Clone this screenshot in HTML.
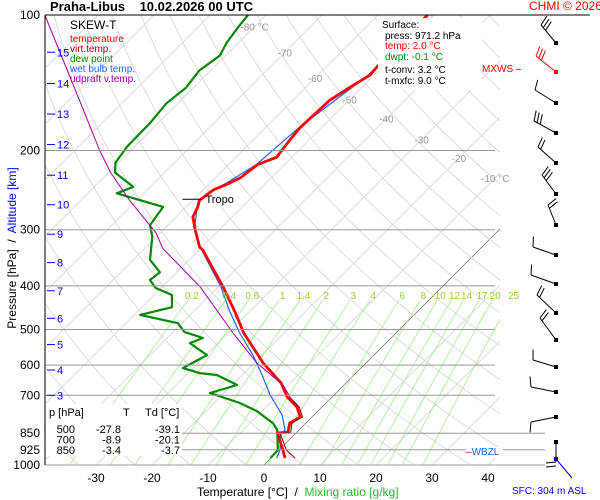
<!DOCTYPE html>
<html><head><meta charset="utf-8"><style>
html,body{margin:0;padding:0;background:#fff;}
svg{display:block;font-family:"Liberation Sans",sans-serif;}
</style></head><body>
<svg id="chart" width="600" height="500" viewBox="0 0 600 500" xmlns="http://www.w3.org/2000/svg">
<defs><clipPath id="plotClip"><rect x="45" y="15" width="455" height="450"/></clipPath></defs>
<rect x="0" y="0" width="600" height="500" fill="#fff"/>
<g id="grid" clip-path="url(#plotClip)"></g>
<g id="series" clip-path="url(#plotClip)"></g>
<g id="overlay"></g>
</svg>
<script>
// ---- data ----
const tempP = [965,926,849,845,807,782,743,706,657,593,509,457,402,333,328,300,281,267,258,245,236,230,215,207,190,178,155,145,136,114,100];
const tempT = [2.5,0.7,-3.3,-1.6,-2.9,-2.1,-4.5,-8.0,-11.6,-18.4,-27.2,-32.5,-39.1,-49.3,-50.4,-54.3,-57.0,-57.9,-58.8,-58.2,-56.4,-55.5,-54.8,-52.7,-53.4,-53.8,-53.4,-52.1,-50.7,-51.6,-51.1];
const virtP = [965,926,850,845,807,782,743,706];
const virtT = [4.3,1.3,-2.8,-1.1,-2.5,-1.7,-4.1,-7.6];
const dewP = [965,926,836,807,759,728,692,664,631,625,609,570,536,522,506,484,464,446,419,404,388,373,350,311,293,267,249,241,224,213,196,174,157,145,133,123,115,105,100];
const dewT = [-0.1,-0.2,-3.9,-5.9,-10.9,-15.4,-22.5,-19.1,-24.5,-27.9,-31.8,-29.8,-35.0,-33.6,-38.0,-40.7,-48.9,-44.6,-46.8,-51.0,-53.4,-53.0,-57.0,-60.7,-63.2,-64.1,-74.8,-73.0,-78.8,-80.5,-81.3,-81.4,-82.0,-81.3,-82.0,-81.0,-82.1,-82.9,-83.2];
const wetP = [965,926,854,836,774,699,631,570,509,457,402,333,300,258,215,178,136,100];
const wetT = [1.0,0.2,-2.5,-2.5,-5.7,-11.4,-16.4,-21.6,-27.9,-33.4,-39.5,-49.5,-54.5,-59.0,-55.0,-54.0,-51.0,-51.3];
const parcelP = [706,666,593,509,402,330,305,258,224,200,155,100];
const parcelT = [-7.5,-10.7,-19.5,-29.1,-43.2,-56.8,-60.7,-71.3,-79.6,-85.5,-98.0,-119.5];
const pLevels = [100,200,300,400,500,600,700,850,925,1000];
const xTicks = [-30,-20,-10,0,10,20,30,40];
const isoLabels = [-80,-70,-60,-50,-40,-30,-20,-10];
const isoLabelP = [106,121,138,154,170,189,208,230];
const mixRatios = [0.2,0.4,0.6,1,1.4,2,3,4,6,8,10,12,14,17,20,25];
const altKm = [1,2,3,4,5,6,7,8,9,10,11,12,13,14,15];
const altP = [890,790,700,615,540,472,410,355,307,264,227,194,166,142,121];
const tableP = ["500","700","850"];
const tableT = ["-27.8","-8.9","-3.4"];
const tableTd = ["-39.1","-20.1","-3.7"];

// ---- axes ----
function yP(p){return 15+450*Math.log10(p/100);}
function xT(t,p){return 264+5.6*t+(465-yP(p));}

const NS="http://www.w3.org/2000/svg";
function mk(tag,attrs,parent){const e=document.createElementNS(NS,tag);for(const k in attrs)e.setAttribute(k,attrs[k]);parent.appendChild(e);return e;}
const grid=document.getElementById('grid'),series=document.getElementById('series'),ov=document.getElementById('overlay');

for(let t=-130;t<=40;t+=10){
  const l=mk('line',{x1:xT(t,1000),y1:yP(1000),x2:xT(t,100),y2:yP(100),stroke:t===0?'#777':'#dcdcdc','stroke-width':t===0?0.8:1},grid);
  
  
}
for(let th=230;th<=520;th+=10){
  let pts=[];
  for(let p=1000;p>=100;p-=10){const T=th*Math.pow(p/1000,0.286)-273.15;pts.push(xT(T,p).toFixed(1)+','+yP(p).toFixed(1));}
  const pl=mk('polyline',{points:pts.join(' '),fill:'none',stroke:'#dcdcdc','stroke-width':1},grid);
  
  
}
pLevels.forEach(p=>{
  const right = p>=850?545:495;
  const l=mk('line',{x1:45,y1:yP(p),x2:right,y2:yP(p),stroke:p===100?'#000':'#999','stroke-width':1},ov);
  
  
});
function tdFromW(w,p){const e=w*p/(622+w);const a=Math.log(e/6.112);return 243.5*a/(17.67-a);}
mixRatios.forEach(w=>{
  let pts=[];
  for(let p=1000;p>=430;p-=10){pts.push(xT(tdFromW(w,p),p).toFixed(1)+','+yP(p).toFixed(1));}
  const pl=mk('polyline',{points:pts.join(' '),fill:'none',stroke:'#9ef08a','stroke-width':0.8},grid);
  
  
  const lp=419;
  const tx=mk('text',{x:xT(tdFromW(w,lp),lp),y:299,'font-size':10,fill:'#9acd32','text-anchor':'middle'},ov);
  tx.textContent=String(w);
  
  
});
isoLabels.forEach((t,i)=>{
  const p=isoLabelP[i];
  const tx=mk('text',{x:xT(t,p),y:yP(p)+4,'font-size':10,fill:'#999','text-anchor':'middle'},ov);
  tx.textContent=(t===-80||t===-10)?t+' °C':String(t);
  
  
});

function curve(P,T,color,w,name,parent){
  const pts=P.map((p,i)=>xT(T[i],p).toFixed(1)+','+yP(p).toFixed(1)).join(' ');
  const pl=mk('polyline',{points:pts,fill:'none',stroke:color,'stroke-width':w,'stroke-linejoin':'round'},parent);
  
  
}
curve(dewP,dewT,'#008800',2.2,'dewpoint-line',series);
curve(wetP,wetT,'#1a66ff',1.2,'wet-bulb-line',series);
curve(tempP,tempT,'#ff0000',2.8,'temperature-line',series);
curve(virtP,virtT,'#8b0000',1,'virtual-temp-line',series);
curve(parcelP,parcelT,'#a000a0',1,'parcel-line',series);

(function(){const p=258,y=yP(p),x=xT(-58.8,p);
 const l=mk('line',{x1:x-17,y1:y-1,x2:x+2,y2:y-1,stroke:'#000','stroke-width':1},ov);
 
 
 const t=mk('text',{x:x+6,y:y+3,'font-size':11,fill:'#000'},ov);t.textContent='Tropo';
 
 })();

mk('line',{x1:45,y1:15,x2:590,y2:15,stroke:'#000','stroke-width':1},ov);
mk('line',{x1:45,y1:15,x2:45,y2:465,stroke:'#000','stroke-width':1},ov);
pLevels.forEach(p=>{
  const t=mk('text',{x:40,y:yP(p)+4,'font-size':12,fill:'#000','text-anchor':'end'},ov);
  t.textContent=String(p);
  
  
});
altKm.forEach((k,i)=>{
  const y=yP(altP[i]);
  mk('line',{x1:47,y1:y,x2:55,y2:y,stroke:'#0000ff','stroke-width':1},ov);
  const t=mk('text',{x:57,y:y+4,'font-size':11,fill:'#0000ff'},ov);
  t.textContent=String(k);
  
  
});
xTicks.forEach(v=>{
  const t=mk('text',{x:xT(v,1000),y:482,'font-size':12,fill:'#000','text-anchor':'middle'},ov);
  t.textContent=String(v);
  
  
});
mk('rect',{x:46,y:404,width:136,height:52,fill:'#fff'},ov);
(function(){
  const h=mk('text',{x:49,y:416,'font-size':11,fill:'#000'},ov);h.textContent='p [hPa]';
  
  const h2=mk('text',{x:123,y:416,'font-size':11,fill:'#000'},ov);h2.textContent='T';
  const h3=mk('text',{x:145,y:416,'font-size':11,fill:'#000'},ov);h3.textContent='Td [°C]';
  tableP.forEach((p,i)=>{const y=433+i*10.5;
    const a=mk('text',{x:75,y:y,'font-size':11,fill:'#000','text-anchor':'end'},ov);a.textContent=p;
    
    const b=mk('text',{x:121,y:y,'font-size':11,fill:'#000','text-anchor':'end'},ov);b.textContent=tableT[i];
    
    const c=mk('text',{x:180,y:y,'font-size':11,fill:'#000','text-anchor':'end'},ov);c.textContent=tableTd[i];
    });
})();

const barbY=[43,72,103,133,163,194,225,255,284,313,340,367,392,417];
const barbEx=[-15,-20,-21,-22,-18,-14,-8,-23,-25,-19,-16,-23,-25,-25];
const barbEy=[-18,-16,-13,-12,-16,-19,-20,-8,-9,-18,-22,-7,-5,5];
const barbN=[3,3,1,3,2,3,2,1,1,2,2,1,1,1];
barbY.forEach((y,i)=>{
  const x0=556,x1=x0+barbEx[i],y1=y+barbEy[i];
  const col=i===1?'#ff0000':'#000';
  const dx=x1-x0,dy=y1-y;
  const L=Math.hypot(dx,dy),ux=dx/L,uy=dy/L;
  const px=uy,py=-ux;
  const g=mk('g',{},ov);
  
  
  mk('line',{x1:x0,y1:y,x2:x1,y2:y1,stroke:col,'stroke-width':1},g);
  for(let k=0;k<barbN[i];k++){
    const bx=x1-ux*k*3.5,by=y1-uy*k*3.5;
    const sgn=(barbEy[i]>0)?-1:1;
    mk('line',{x1:bx,y1:by,x2:bx+(px*sgn)*-10+ux*3,y2:by+(py*sgn)*-10+uy*3,stroke:col,'stroke-width':1},g);
  }
  mk('rect',{x:x0-2,y:y-2,width:4,height:4,fill:'#000'},g);
});
mk('rect',{x:554,y:70,width:4,height:4,fill:'#ff0000'},ov);
mk('line',{x1:556,y1:442,x2:556,y2:462,stroke:'#000','stroke-width':1},ov);
mk('line',{x1:556,y1:462,x2:546,y2:463,stroke:'#000','stroke-width':1},ov);
mk('line',{x1:556,y1:466,x2:546,y2:467,stroke:'#000','stroke-width':1},ov);
mk('rect',{x:554,y:440,width:4,height:4,fill:'#000'},ov);
mk('line',{x1:556,y1:459,x2:572,y2:478,stroke:'#0000cc','stroke-width':1},ov);
mk('rect',{x:554,y:457,width:4,height:4,fill:'#0000cc'},ov);
</script>
<div style="position:absolute;left:0;top:0;width:600px;height:500px;pointer-events:none;font-family:'Liberation Sans',sans-serif;">
  <div style="position:absolute;left:50px;top:-1px;font-size:13px;font-weight:bold;white-space:pre;">Praha-Libus    10.02.2026 00 UTC</div>
  <div style="position:absolute;left:529px;top:-1px;font-size:12px;color:#f00;white-space:nowrap;">CHMI © 2026</div>
  <div style="position:absolute;left:67px;top:17px;width:73px;height:93px;font-size:10px;line-height:10px;">
    <div style="font-size:12px;line-height:12px;margin:2px 0 4px 3px;">SKEW-T</div>
    <div style="color:#f00;margin-left:3px;">temperature</div>
    <div style="color:#a00000;margin-left:3px;">virt.temp.</div>
    <div style="color:#080;margin-left:3px;">dew point</div>
    <div style="color:#1a66ff;margin-left:3px;white-space:nowrap;">wet bulb temp.</div>
    <div style="color:#a000a0;margin-left:3px;white-space:nowrap;">udpraft v.temp.</div>
  </div>
  <div style="position:absolute;left:378px;top:18px;width:104px;height:72px;background:#fff;font-size:10px;line-height:10.5px;">
    <div style="margin:3px 0 0 4px;">Surface:</div>
    <div style="margin-left:7px;">press: 971.2 hPa</div>
    <div style="margin-left:7px;color:#f00;">temp: 2.0 °C</div>
    <div style="margin-left:7px;color:#080;">dwpt: -0.1 °C</div>
    <div style="margin:3px 0 0 7px;">t-conv: 3.2 °C</div>
    <div style="margin-left:7px;">t-mxfc: 9.0 °C</div>
  </div>
  <div style="position:absolute;left:482px;top:64px;font-size:10px;color:#f00;">MXWS –</div>
  <div style="position:absolute;left:466px;top:447px;font-size:10px;color:#1a66ff;background:#fff;padding-right:4px;"><span style="color:#f00">–</span>WBZL</div>
  <div style="position:absolute;left:197px;top:485px;font-size:12px;white-space:pre;">Temperature [°C]  /  <span style="color:#2db82d">Mixing ratio [g/kg]</span></div>
  <div style="position:absolute;left:-88px;top:241px;width:200px;text-align:center;font-size:12px;transform:rotate(-90deg);white-space:pre;">Pressure [hPa]  /  <span style="color:#0000ff">Altitude [km]</span></div>
  <div style="position:absolute;left:512px;top:486px;font-size:10px;color:#0000ff;white-space:nowrap;">SFC: 304 m ASL</div>
</div>
</body></html>
